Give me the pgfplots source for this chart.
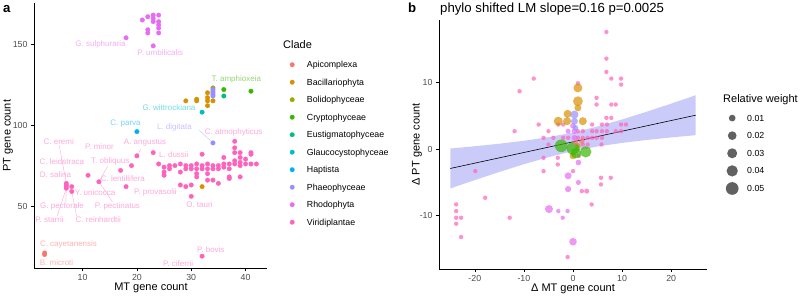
\documentclass[border=0pt]{standalone}
\usepackage{fontspec}
\setmainfont{Liberation Sans}
\usepackage{pgfplots}
\usepackage{pgfplotstable}
\pgfplotsset{compat=1.18}
\definecolor{cApi}{HTML}{F8766D}
\definecolor{cBac}{HTML}{D89000}
\definecolor{cBol}{HTML}{A3A500}
\definecolor{cCry}{HTML}{39B600}
\definecolor{cEus}{HTML}{00BF7D}
\definecolor{cGla}{HTML}{00BFC4}
\definecolor{cHap}{HTML}{00B0F6}
\definecolor{cPha}{HTML}{9590FF}
\definecolor{cRho}{HTML}{E76BF3}
\definecolor{cVir}{HTML}{FF62BC}
\definecolor{band}{HTML}{CBCBFA}
\newcommand{\fs}[1]{\fontsize{#1}{#1}\selectfont}

% ---------- panel b data ----------
\pgfplotstableread{
x y w
6.8 17.6 0.006
6.8 13.6 0.006
6.8 11.6 0.006
7.8 10.6 0.006
9.8 10.6 0.006
9.8 9.7 0.006
-8.0 10.6 0.006
-10.9 8.7 0.006
4.8 7.7 0.006
4.8 6.7 0.006
7.8 6.7 0.006
8.7 6.7 0.006
6.8 4.7 0.006
7.8 4.7 0.006
9.8 3.7 0.006
10.8 3.7 0.006
-11.9 2.7 0.006
-7.0 3.7 0.006
-5.0 2.7 0.006
-6.0 1.7 0.006
-4.0 1.7 0.006
-3.0 3.7 0.006
-2.0 3.7 0.006
3.9 3.7 0.006
5.9 3.7 0.006
6.9 3.7 0.006
3.9 2.7 0.006
4.8 2.7 0.006
5.9 2.7 0.006
6.9 2.7 0.006
8.7 2.7 0.006
9.8 2.7 0.006
3.0 1.7 0.006
3.9 1.7 0.006
4.8 1.7 0.006
5.9 1.7 0.006
5.8 0.7 0.006
-5.0 0.7 0.006
-2.0 1.7 0.006
-1.0 1.7 0.006
1.0 1.7 0.006
2.0 1.7 0.006
2.0 2.7 0.006
1.0 2.7 0.006
1.0 9.9 0.006
-6.0 -1.3 0.006
-6.0 -3.3 0.006
-3.1 -1.3 0.006
-3.1 -2.3 0.006
0.0 -3.3 0.006
1.2 -1.0 0.006
1.8 -6.3 0.006
2.8 -6.3 0.008
3.8 -8.3 0.006
5.7 -4.3 0.006
7.7 -4.3 0.006
5.7 -5.3 0.006
-17.9 -7.3 0.006
-12.9 -10.3 0.006
-1.1 -16.2 0.006
-23.8 -8.3 0.006
-23.8 -9.3 0.006
-23.8 -10.3 0.006
-23.8 -11.2 0.006
-22.8 -10.3 0.006
-22.8 -13.2 0.006
-19.9 -3.3 0.006
2.0 0.7 0.006
3.0 0.7 0.006
}\bVir
\pgfplotstableread{
x y w
-4.9 -9.0 0.02
0.0 -13.9 0.018
-1.0 -4.0 0.015
-1.0 -6.0 0.012
1.1 -2.0 0.01
1.1 -5.0 0.008
-3.0 -9.3 0.006
-1.1 -9.3 0.006
-2.1 -10.3 0.006
0.3 2.7 0.01
0.3 1.7 0.01
-1.0 2.7 0.008
0.0 3.5 0.01
}\bRho
\pgfplotstableread{
x y w
0.3 5.2 0.02
0.3 4.2 0.015
0.5 3.2 0.01
}\bPha
\pgfplotstableread{
x y w
1.0 9.2 0.025
1.0 7.2 0.03
1.0 6.2 0.015
-1.1 5.3 0.02
-3.0 4.2 0.025
-1.2 4.2 0.02
2.0 4.2 0.02
0.0 -1.0 0.015
1.0 0.5 0.01
}\bBac
\pgfplotstableread{
x y w
-2.4 0.5 0.05
0.0 0.1 0.05
2.6 -0.4 0.04
0.6 -0.6 0.035
}\bCry
\pgfplotstableread{
x y w
1.8 1.2 0.01
0.5 1.0 0.008
}\bApi

\pgfplotsset{
  ggaxis/.style={
    scale only axis,
    axis lines=left,
    axis line style={-, line width=0.6pt, black},
    tick align=outside,
    major tick length=3pt,
    tick style={line width=0.6pt, black},
    tick label style={font=\fs{8.8}, text=black!70},
    /pgf/number format/assume math mode=true,
    clip=false,
  },
  dot/.style={color=#1, only marks, mark=*, mark size=2.3pt, mark options={line width=0.2pt, draw=#1, fill=#1}},
  bub/.style={scatter, only marks, mark=*, forget plot,
    scatter/use mapped color={draw=#1, draw opacity=0, fill=#1, fill opacity=0.7},
    visualization depends on={28.4*sqrt(\thisrow{w}) \as \rad},
    scatter/@pre marker code/.append style={/tikz/mark size=\rad}},
}
\tikzset{
  lab/.style={font=\fs{8}, text=#1!55!white, inner sep=0pt},
  seg/.style={draw=#1!55!white, line width=0.4pt},
}
\newcommand{\sizekey}[1]{\addlegendimage{legend image code/.code={\path[draw=none,fill=none] (0pt,-1pt) rectangle (13pt,1pt); \fill[black!62, draw=none] (6.5pt,3pt) circle (#1);}}}

\begin{document}
\begin{tikzpicture}
\useasboundingbox (0,0) rectangle (800pt,297pt);

% ================= panel a =================
\begin{axis}[ggaxis,
  at={(34pt,28.7pt)}, anchor=south west,
  width=233pt, height=265.3pt,
  xmin=1.05, xmax=43.95, ymin=11.5, ymax=175.5,
  xtick={10,20,30,40}, ytick={50,100,150},
  legend style={draw=none, fill=none, at={(axis description cs:1.0944,0.7806)}, anchor=north west,
    font=\fs{8.8}, inner sep=0pt, row sep=9.4pt, column sep=11.7pt,
    nodes={inner sep=0pt, text height=6.3pt, text depth=1.8pt, anchor=base west}},
  legend image code/.code={\path[draw=none,fill=none] (0pt,-1pt) rectangle (6pt,1pt); \draw[#1, mark repeat=2, mark phase=2] plot coordinates {(0pt,3pt) (3pt,3pt) (6pt,3pt)};},
]
\addplot[dot=cApi] coordinates {(3,21) (3,20)};
\addlegendentry{Apicomplexa}
\addplot[dot=cBac] coordinates {(29,115) (31,116) (31,115) (33,120) (33,117) (33,115) (33,112) (34,115) (32,62)};
\addlegendentry{Bacillariophyta}
\addplot[dot=cBol] coordinates {(34,123)};
\addlegendentry{Bolidophyceae}
\addplot[dot=cCry] coordinates {(36,122) (41,121)};
\addlegendentry{Cryptophyceae}
\addplot[dot=cEus] coordinates {(36,118)};
\addlegendentry{Eustigmatophyceae}
\addplot[dot=cGla] coordinates {(32,108)};
\addlegendentry{Glaucocystophyceae}
\addplot[dot=cHap] coordinates {(20,96)};
\addlegendentry{Haptista}
\addplot[dot=cPha] coordinates {(34,122) (34,121) (34,120) (34,119) (34,118) (34,89)};
\addlegendentry{Phaeophyceae}
\addplot[dot=cRho] coordinates {(18,154) (21,165) (22,167) (22,159) (22,157) (23,168) (23,166) (23,164)
  (24,168) (24,164) (24,162) (24,160) (24,157) (23,149)};
\addlegendentry{Rhodophyta}
\addplot[dot=cVir] coordinates {
  (7,64) (7,63) (7,62) (7,61) (8,62) (8,59) (11,69) (13,65) (17,72) (18,62) (19,75) (20,81) (23,83)
  (24,76) (25,74) (25,71) (25,69) (26,75) (26,73) (27,75) (28,76) (28,71) (28,63) (29,75) (29,73) (29,62)
  (30,75) (30,73) (30,63) (30,56) (31,76) (31,73) (31,70) (31,68) (32,82) (32,75) (32,73)
  (33,76) (33,73) (33,70) (33,66) (34,75) (34,73) (34,66) (35,75) (35,73) (35,64)
  (36,80) (36,76) (36,74) (37,76) (37,73) (37,68) (37,67) (38,90) (38,86) (38,83) (38,78) (38,76)
  (39,83) (39,80) (39,77) (39,75) (39,68) (40,79) (40,76) (41,83) (41,82) (41,76) (42,76) (32,19)};
\addlegendentry{Viridiplantae}

% label segments
\draw[seg=cVir] (axis cs:5.7,87.5) -- (axis cs:7,64);
\draw[seg=cVir] (axis cs:6.9,51.5) -- (axis cs:7,61);
\draw[seg=cVir] (axis cs:5.3,43.6) -- (axis cs:7,61);
\draw[seg=cVir] (axis cs:8.9,43.6) -- (axis cs:8,59);
\draw[seg=cVir] (axis cs:15.5,52.5) -- (axis cs:13,65);
\draw[seg=cVir] (axis cs:14.6,74.5) -- (axis cs:13,65);
\draw[seg=cVir] (axis cs:20.7,84.9) -- (axis cs:20,81);
\draw[seg=cPha] (axis cs:31.5,96.8) -- (axis cs:34,89);

% labels
\node[lab=cRho] at (axis cs:13.3,150) {G. sulphuraria};
\node[lab=cRho] at (axis cs:24.3,145) {P. umbilicalis};
\node[lab=cCry] at (axis cs:38.3,128) {T. amphioxeia};
\node[lab=cGla] at (axis cs:25.9,110.6) {G. wittrockiana};
\node[lab=cHap] at (axis cs:17.9,101) {C. parva};
\node[lab=cPha] at (axis cs:26.9,98.3) {L. digitata};
\node[lab=cVir] at (axis cs:37.8,95.4) {C. atmophyticus};
\node[lab=cVir] at (axis cs:5.6,90) {C. eremi};
\node[lab=cVir] at (axis cs:21.5,89) {A. angustus};
\node[lab=cVir] at (axis cs:13.1,86.5) {P. minor};
\node[lab=cVir] at (axis cs:26.8,81.5) {L. dussii};
\node[lab=cVir] at (axis cs:6.2,77.3) {C. leidstraca};
\node[lab=cVir] at (axis cs:15.1,77.3) {T. obliquus};
\node[lab=cVir] at (axis cs:5,69.2) {D. salina};
\node[lab=cVir] at (axis cs:17.4,66.9) {C. lentillifera};
\node[lab=cVir] at (axis cs:12.3,58.3) {Y. unicocca};
\node[lab=cVir] at (axis cs:23.4,58.3) {P. provasolii};
\node[lab=cVir] at (axis cs:31.5,51) {O. tauri};
\node[lab=cVir] at (axis cs:6.2,50) {G. pectorale};
\node[lab=cVir] at (axis cs:16.4,50) {P. pectinatus};
\node[lab=cVir] at (axis cs:3.9,41.7) {P. starrii};
\node[lab=cVir] at (axis cs:12.9,41.7) {C. reinhardtii};
\node[lab=cApi] at (axis cs:7.4,26) {C. cayetanensis};
\node[lab=cApi] at (axis cs:5.2,14.8) {B. microti};
\node[lab=cVir] at (axis cs:33.6,23) {P. bovis};
\node[lab=cVir] at (axis cs:27.6,14.6) {P. ciferrii};
\end{axis}

% ================= panel b =================
\begin{axis}[ggaxis,
  at={(439pt,28pt)}, anchor=south west,
  width=268pt, height=249pt,
  xmin=-27.3, xmax=27.3, ymin=-18, ymax=19.4,
  xtick={-20,-10,0,10,20}, ytick={-10,0,10},
  legend style={draw=none, fill=none, at={(axis description cs:1.069,0.633)}, anchor=north west,
    font=\fs{8.8}, inner sep=0pt, row sep=4.6pt, column sep=8.5pt,
    nodes={inner sep=0pt, text height=9.5pt, text depth=3.5pt, anchor=base west}},
]
\addplot[fill=band, draw=none, forget plot] coordinates {
  (-25,-5.9) (-20,-4.64) (-15,-3.42) (-10,-2.26) (-5,-1.2) (0,-0.3) (5,0.4) (10,0.94) (15,1.38) (20,1.76) (25,2.1)
  (25,8.1) (20,6.84) (15,5.62) (10,4.46) (5,3.4) (0,2.5) (-5,1.8) (-10,1.26) (-15,0.82) (-20,0.44) (-25,0.1)} -- cycle;
\addplot[black, line width=0.6pt, forget plot] coordinates {(-25,-2.9) (25,5.1)};
\addplot[bub=cVir] table[x=x, y=y] {\bVir};
\addplot[bub=cRho] table[x=x, y=y] {\bRho};
\addplot[bub=cBac] table[x=x, y=y] {\bBac};
\addplot[bub=cPha] table[x=x, y=y] {\bPha};
\addplot[bub=cCry] table[x=x, y=y] {\bCry};
\addplot[bub=cApi] table[x=x, y=y] {\bApi};

\sizekey{3.35pt}
\addlegendentry{0.01}
\sizekey{4.35pt}
\addlegendentry{0.02}
\sizekey{5.0pt}
\addlegendentry{0.03}
\sizekey{5.65pt}
\addlegendentry{0.04}
\sizekey{6.35pt}
\addlegendentry{0.05}
\end{axis}

% ================= texts =================
\node[font=\fs{11}] at (151pt,9pt) {MT gene count};
\node[font=\fs{11}, rotate=90] at (8pt,161.4pt) {PT gene count};
\node[font=\fs{11}] at (573pt,8pt) {Δ MT gene count};
\node[font=\fs{11}, rotate=90] at (417pt,152.5pt) {Δ PT gene count};
\node[font=\fs{13.2}, anchor=base west, inner sep=0pt] at (440pt,284pt) {phylo shifted LM slope=0.16 p=0.0025};
\node[font=\bfseries\fs{13.2}, anchor=base west, inner sep=0pt] at (3pt,284pt) {a};
\node[font=\bfseries\fs{13.2}, anchor=base west, inner sep=0pt] at (408pt,284pt) {b};
\node[font=\fs{11}, anchor=base west, inner sep=0pt] at (283pt,248pt) {Clade};
\node[font=\fs{11}, anchor=base west, inner sep=0pt] at (723pt,194pt) {Relative weight};
\end{tikzpicture}
\end{document}
